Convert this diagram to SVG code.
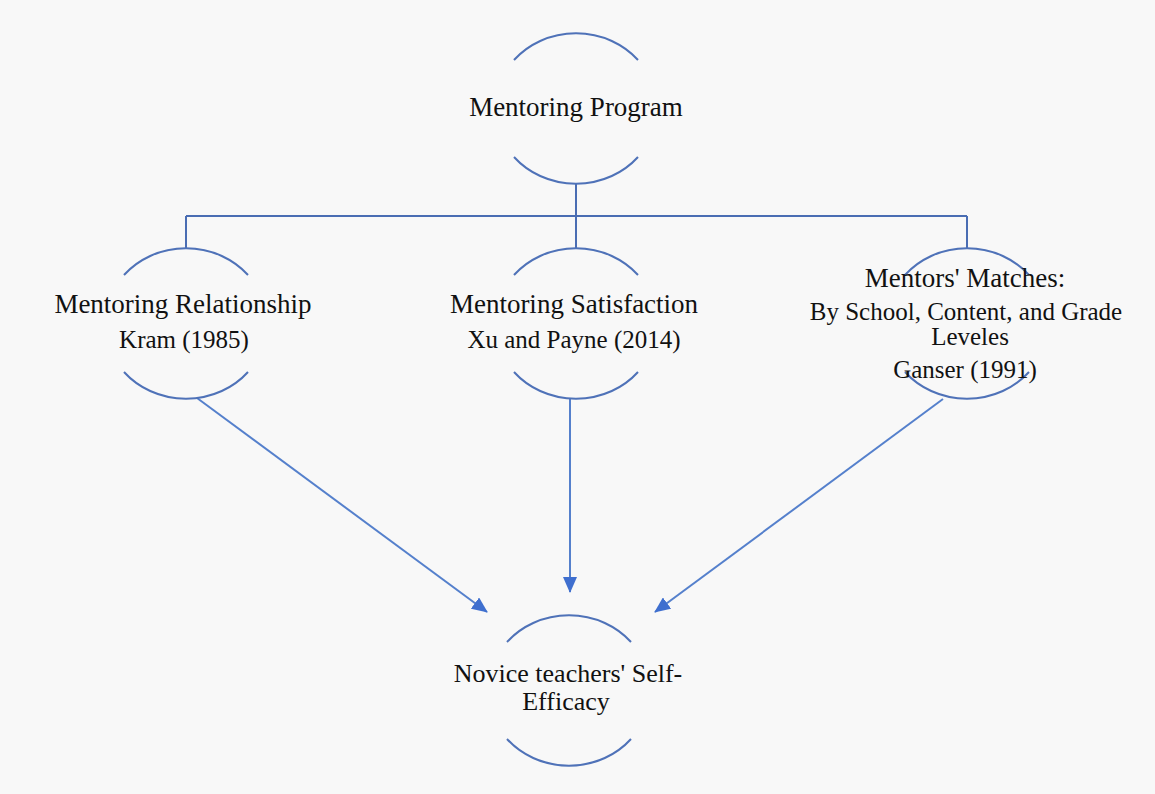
<svg xmlns="http://www.w3.org/2000/svg" width="1155" height="794" viewBox="0 0 1155 794">
  <style>
    .arc { fill: none; stroke: #4f72b8; stroke-width: 2; }
    .tree { fill: none; stroke: #4a6db3; stroke-width: 2; }
    .flow { fill: none; stroke: #5580cc; stroke-width: 2; }
    .t1 { font-family: "Liberation Serif", "Times New Roman", serif; font-size: 27px; fill: #111; text-anchor: middle; }
    .t2 { font-family: "Liberation Serif", "Times New Roman", serif; font-size: 25px; fill: #111; text-anchor: middle; }
    .t3 { font-family: "Liberation Serif", "Times New Roman", serif; font-size: 26px; fill: #111; text-anchor: middle; }
  </style>
  <defs>
    <marker id="head" viewBox="0 0 16 14" refX="15" refY="7" markerWidth="16" markerHeight="14" markerUnits="userSpaceOnUse" orient="auto">
      <path d="M0,0 L16,7 L0,14 z" fill="#3f6fcf"/>
    </marker>
  </defs>

  <rect x="0" y="0" width="1155" height="794" fill="#f8f8f8"/>

  <!-- connectors -->
  <g id="connectors">
    <path class="tree" d="M576,183 V216 M186,216 H967 M186,216 V249 M576,216 V249 M967,216 V249"/>
    <line class="flow" x1="197" y1="398" x2="487" y2="612" marker-end="url(#head)"/>
    <line class="flow" x1="570" y1="398" x2="570" y2="592" marker-end="url(#head)"/>
    <line class="flow" x1="943" y1="399" x2="655" y2="612" marker-end="url(#head)"/>
  </g>

  <!-- top node -->
  <g id="mentoring-program">
    <path class="arc" d="M514,60 A81,75 0 0 1 638,60"/>
    <path class="arc" d="M514,157 A81,75 0 0 0 638,157"/>
    <text class="t1" x="576" y="116">Mentoring Program</text>
  </g>

  <!-- left node -->
  <g id="mentoring-relationship">
    <path class="arc" d="M124,275 A81,75 0 0 1 248,275"/>
    <path class="arc" d="M124,372 A81,75 0 0 0 248,372"/>
    <text class="t1" x="183" y="313">Mentoring Relationship</text>
    <text class="t2" x="184" y="348">Kram (1985)</text>
  </g>

  <!-- middle node -->
  <g id="mentoring-satisfaction">
    <path class="arc" d="M514,275 A81,75 0 0 1 638,275"/>
    <path class="arc" d="M514,372 A81,75 0 0 0 638,372"/>
    <text class="t1" x="574" y="313">Mentoring Satisfaction</text>
    <text class="t2" x="574" y="348">Xu and Payne (2014)</text>
  </g>

  <!-- right node -->
  <g id="mentors-matches">
    <path class="arc" d="M905,275 A81,75 0 0 1 1029,275"/>
    <path class="arc" d="M905,372 A81,75 0 0 0 1029,372"/>
    <text class="t1" x="965" y="287">Mentors' Matches:</text>
    <text class="t2" x="966" y="320">By School, Content, and Grade</text>
    <text class="t2" x="970" y="345">Leveles</text>
    <text class="t2" x="965" y="378">Ganser (1991)</text>
  </g>

  <!-- bottom node -->
  <g id="self-efficacy">
    <path class="arc" d="M507,642 A81,75 0 0 1 631,642"/>
    <path class="arc" d="M507,739 A81,75 0 0 0 631,739"/>
    <text class="t3" x="568" y="682">Novice teachers' Self-</text>
    <text class="t3" x="566" y="710">Efficacy</text>
  </g>
</svg>
